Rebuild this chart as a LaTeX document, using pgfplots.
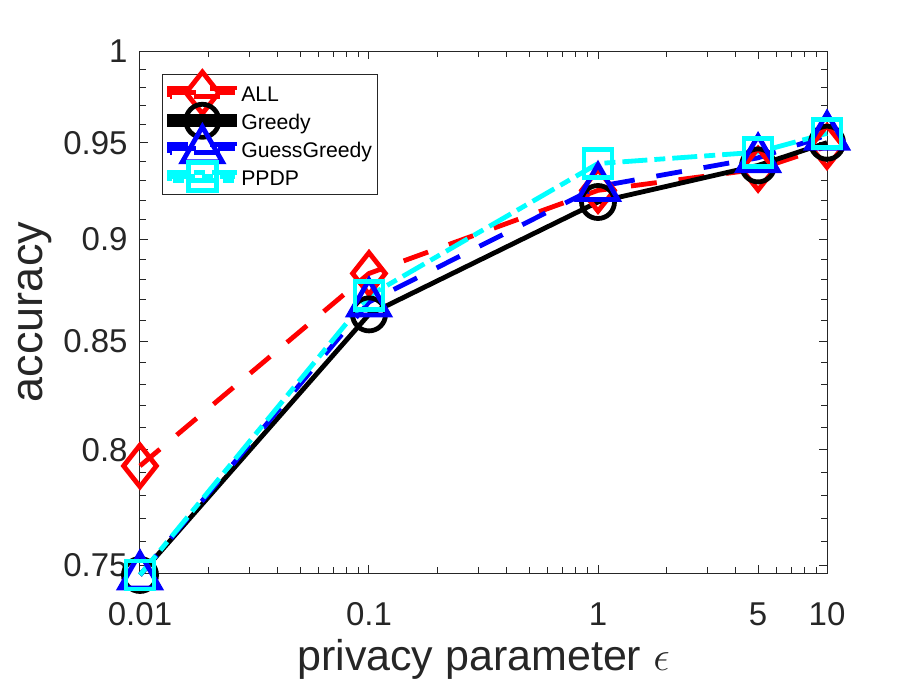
\documentclass[border=0pt]{standalone}
\usepackage{fontspec}
\setmainfont{Liberation Sans}
\usepackage{pgfplots}
\pgfplotsset{compat=1.18}
\definecolor{axgray}{gray}{0.15}
\definecolor{mred}{rgb}{1,0,0}
\definecolor{mblue}{rgb}{0,0,1}
\definecolor{mcyan}{rgb}{0,1,1}
\pgfdeclareplotmark{mdiamond}{%
  \pgfpathmoveto{\pgfqpoint{0pt}{10.4pt}}%
  \pgfpathlineto{\pgfqpoint{8.2pt}{0pt}}%
  \pgfpathlineto{\pgfqpoint{0pt}{-10.4pt}}%
  \pgfpathlineto{\pgfqpoint{-8.2pt}{0pt}}%
  \pgfpathclose\pgfusepathqstroke}
\pgfdeclareplotmark{mcircle}{\pgfpathcircle{\pgfpointorigin}{8.25pt}\pgfusepathqstroke}
\pgfdeclareplotmark{mtriangle}{%
  \pgfpathmoveto{\pgfqpoint{0pt}{11pt}}%
  \pgfpathlineto{\pgfqpoint{10pt}{-6.5pt}}%
  \pgfpathlineto{\pgfqpoint{-10pt}{-6.5pt}}%
  \pgfpathclose\pgfusepathqstroke}
\pgfdeclareplotmark{msquare}{%
  \pgfpathrectangle{\pgfqpoint{-7pt}{-7pt}}{\pgfqpoint{14pt}{14pt}}\pgfusepathqstroke}
\begin{document}
\begin{tikzpicture}
\path[use as bounding box] (-70pt,-56pt) rectangle (386.5pt,286.5pt);
\begin{axis}[
  at={(0,0)}, anchor=south west,
  scale only axis, width=343.5pt, height=261pt,
  xmode=log, ymode=log,
  xmin=0.01, xmax=10, ymin=0.7468, ymax=1,
  xtick={0.01,0.1,1,5,10}, xticklabels={0.01,0.1,1,5,10},
  minor xtick={0.02,0.03,0.04,0.05,0.06,0.07,0.08,0.09,0.2,0.3,0.4,0.5,0.6,0.7,0.8,0.9,2,3,4,6,7,8,9},
  ytick={0.75,0.8,0.85,0.9,0.95,1}, yticklabels={0.75,0.8,0.85,0.9,0.95,1},
  minor ytick={0.76,0.77,0.78,0.79,0.81,0.82,0.83,0.84,0.86,0.87,0.88,0.89,0.91,0.92,0.93,0.94,0.96,0.97,0.98,0.99},
  tick align=inside,
  major tick length=4pt, minor tick length=2.8pt,
  axis line style={axgray, line width=0.5pt},
  every tick/.style={axgray, line width=0.5pt},
  /pgf/number format/assume math mode=true,
  tick label style={font=\fontsize{16.5}{18}\selectfont, text=axgray},
  xticklabel style={anchor=north, inner sep=0pt, yshift=-14.5pt},
  yticklabel style={anchor=east, inner sep=0pt, xshift=-6pt},
  xlabel={privacy parameter $\epsilon$},
  xlabel style={at={(axis description cs:0.5,-0.1877)}, anchor=base, font=\fontsize{21.5}{24}\selectfont, text=axgray},
  ylabel={accuracy},
  ylabel style={at={(axis description cs:-0.1426,0.5)}, anchor=base, font=\fontsize{22.5}{25}\selectfont, text=axgray},
  clip=false,
  legend style={at={(axis description cs:0.032,0.955)}, anchor=north west,
    draw=axgray, line width=0.5pt, fill=white,
    font=\fontsize{10.6}{12}\selectfont,
    inner xsep=2.5pt, inner ysep=3.8pt, row sep=3.8pt,
    nodes={inner sep=0pt, text height=9.5pt, text depth=0.7pt},
    /tikz/every odd column/.append style={column sep=2pt}},
  legend cell align=left,
  legend image code/.code={%
    \draw[mark repeat=2,mark phase=2,overlay,#1] plot coordinates {(0pt,0pt) (16.25pt,0pt) (32.5pt,0pt)};
    \path (0pt,-2pt) rectangle (32.5pt,2pt);},
]
\addplot[mred, line width=2.4pt, dash pattern=on 13pt off 11pt, mark=mdiamond, mark options={solid}]
  coordinates {(0.01,0.793) (0.1,0.883) (1,0.925) (5,0.936) (10,0.948)};
\addplot[black, line width=2.4pt, mark=mcircle, mark options={solid}]
  coordinates {(0.01,0.746) (0.1,0.863) (1,0.919) (5,0.938) (10,0.950)};
\addplot[mblue, line width=2.4pt, dash pattern=on 13pt off 11pt, mark=mtriangle, mark options={solid}]
  coordinates {(0.01,0.746) (0.1,0.869) (1,0.927) (5,0.942) (10,0.954)};
\addplot[mcyan, line width=2.4pt, dash pattern=on 12.5pt off 3.5pt on 5.5pt off 3.5pt, mark=msquare, mark options={solid}]
  coordinates {(0.01,0.746) (0.1,0.872) (1,0.939) (5,0.945) (10,0.955)};
\legend{ALL,Greedy,GuessGreedy,PPDP}
\end{axis}
\end{tikzpicture}
\end{document}
